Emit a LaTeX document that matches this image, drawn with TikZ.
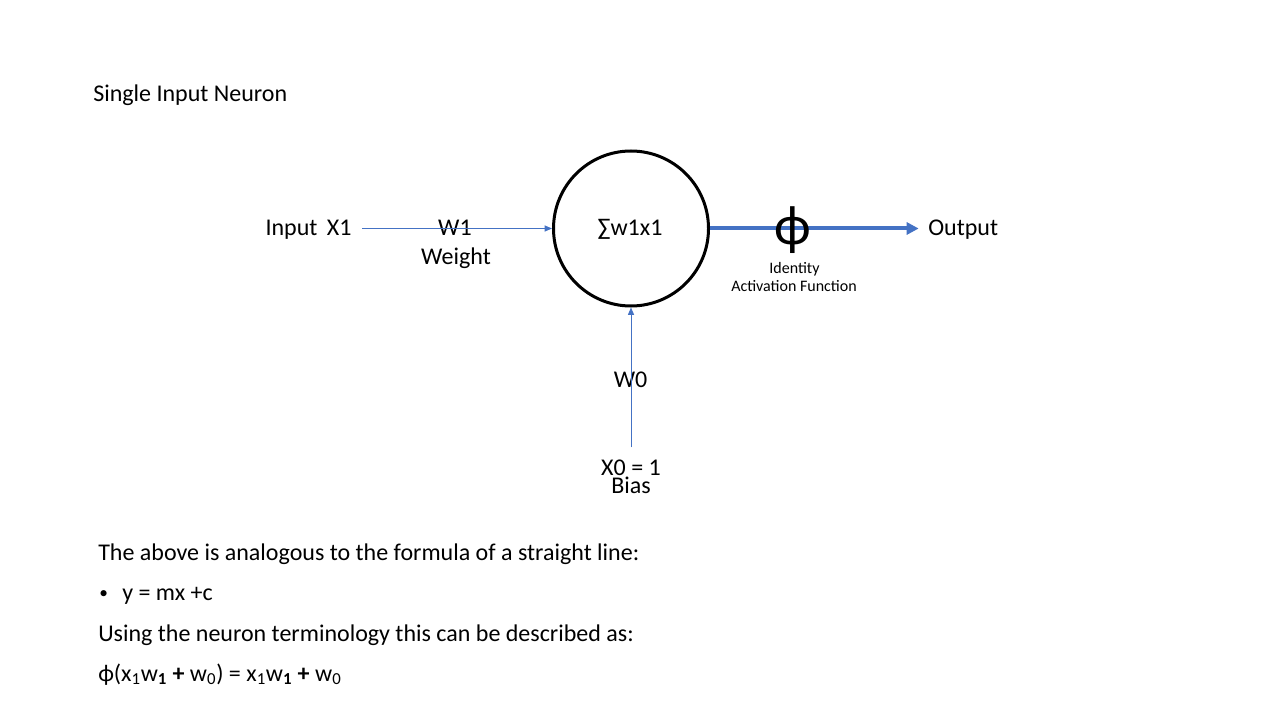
\documentclass[tikz,border=0pt]{standalone}
\usepackage{fontspec}
\setmainfont{Carlito}
\usetikzlibrary{arrows.meta}
\definecolor{pblue}{HTML}{4472C4}
\begin{document}
\begin{tikzpicture}[x=0.75pt,y=-0.75pt,
  lbl/.style={inner sep=0pt,font=\fontsize{18}{21}\selectfont},
  small/.style={inner sep=0pt,font=\fontsize{12}{14}\selectfont},
  body/.style={inner sep=0pt,anchor=base west,font=\fontsize{18}{21}\selectfont},
  thinarrow/.style={draw=pblue,line width=0.75pt,-{Triangle[length=5.5pt,width=4.5pt]}},
  thickarrow/.style={draw=pblue,line width=3pt,-{Triangle[length=9pt,width=9pt]}}]
\useasboundingbox (0,0) rectangle (1280,720);
% title
\node[body] (title) at (93,102) {Single Input Neuron};
% neuron
\node[circle,draw=black,line width=2.25pt,minimum size=155*0.75pt,inner sep=0pt] (neuron) at (631,228.5) {};
\node[lbl,anchor=base] (sum) at (630,235) {∑w1x1};
% input
\node[lbl,anchor=base] (inx) at (308.5,236) {Input\, X1};
\node[lbl,anchor=base] (w1) at (455,236) {W1};
\node[lbl,anchor=base] (weight) at (456,264) {Weight};
\draw[thinarrow,shorten <=8pt] (inx.east|-neuron.west) -- (neuron.west);
% output
\node[lbl,anchor=base west] (out) at (928,235.5) {Output};
\draw[thickarrow,shorten >=7pt] (neuron.east) -- (neuron.east-|out.west);
\node[inner sep=0pt,font=\fontsize{42}{46}\selectfont] (phi) at (793,230) {ϕ};
\node[small,anchor=base] (ident) at (794.5,273) {Identity};
\node[small,anchor=base] (actf) at (794,291.5) {Activation Function};
% bias
\node[lbl,anchor=base] (w0) at (630.5,387.5) {W0};
\node[lbl,align=center,anchor=center] (x0) at (631,476.5) {X0 = 1\\[-7.5pt]Bias};
\draw[thinarrow,shorten <=9pt] (neuron.south|-x0.north) -- (neuron.south);
% bottom text
\node[body] (t1) at (98,560) {The above is analogous to the formula of a straight line:};
\node[inner sep=0pt,anchor=base west,font=\fontsize{13}{15}\selectfont] (bul) at (99,598) {•};
\node[body] (t2) at (122,600) {y = mx +c};
\node[body] (t3) at (98,641.5) {Using the neuron terminology this can be described as:};
\node[body] (t4) at (98,681) {ϕ(x\textsubscript{1}w\textsubscript{\textbf{1}} \textbf{+} w\textsubscript{0}) = x\textsubscript{1}w\textsubscript{\textbf{1}} \textbf{+} w\textsubscript{0}};
\end{tikzpicture}
\end{document}
